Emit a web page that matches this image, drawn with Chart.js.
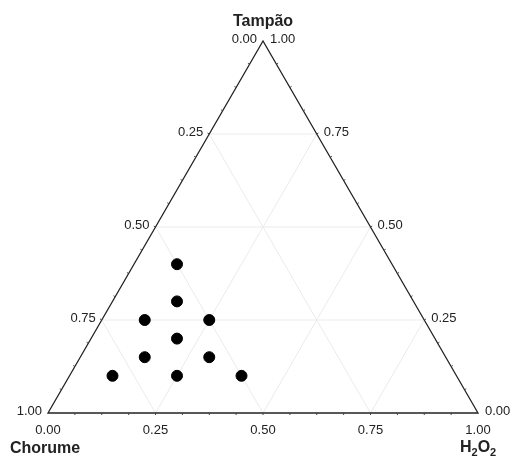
<!DOCTYPE html>
<html>
<head>
<meta charset="utf-8">
<script src="https://cdn.jsdelivr.net/npm/chart.js@4/dist/chart.umd.min.js"></script>
<style>
	body { margin: 0; background: #fff; }
	#wrap { width: 512px; height: 457px; }
</style>
</head>
<body>
<div id="wrap"><canvas id="chart" width="512" height="457"></canvas></div>
<script>
// mixture fractions of each run (Chorume + Tampão + H2O2 = 1)
const chorume = [0.50, 0.55, 0.65, 0.50, 0.60, 0.70, 0.55, 0.80, 0.65, 0.50];
const tampao  = [0.40, 0.30, 0.25, 0.25, 0.20, 0.15, 0.15, 0.10, 0.10, 0.10];
const h2o2    = [0.10, 0.15, 0.10, 0.25, 0.20, 0.15, 0.30, 0.10, 0.25, 0.40];

const tickLabels = ["0.00", "0.25", "0.50", "0.75", "1.00"];
const tickValues = [0, 0.25, 0.5, 0.75, 1];

const H = Math.sqrt(3) / 2;

// ternary (h2o2, tampao) -> cartesian on the unit triangle
const toXY = (h, t) => ({ x: h + t / 2, y: t * H });

const points = h2o2.map((h, i) => toXY(h, tampao[i]));

const ternaryPlugin = {
	id: "ternary",
	beforeDatasetsDraw(chart) {
		const ctx = chart.ctx;
		const xs = chart.scales.x, ys = chart.scales.y;
		const P = (h, t) => {
			const p = toXY(h, t);
			return [xs.getPixelForValue(p.x), ys.getPixelForValue(p.y)];
		};
		const line = (a, b) => {
			ctx.beginPath();
			ctx.moveTo(a[0], a[1]);
			ctx.lineTo(b[0], b[1]);
			ctx.stroke();
		};

		ctx.save();
		// grid
		ctx.strokeStyle = "#ebebeb";
		ctx.lineWidth = 1;
		[0.25, 0.5, 0.75].forEach(v => {
			line(P(0, v), P(1 - v, v));      // tampao const
			line(P(v, 0), P(v, 1 - v));      // h2o2 const
			line(P(0, 1 - v), P(1 - v, 0));  // chorume const
		});

		// triangle
		const A = P(0, 0), B = P(1, 0), C = P(0, 1);
		ctx.strokeStyle = "#222";
		ctx.lineWidth = 1.3;
		ctx.beginPath();
		ctx.moveTo(A[0], A[1]);
		ctx.lineTo(B[0], B[1]);
		ctx.lineTo(C[0], C[1]);
		ctx.closePath();
		ctx.stroke();

		// small ticks
		ctx.strokeStyle = "#444";
		ctx.lineWidth = 1;
		for (let k = 1; k < 16; k++) {
			const v = k / 16;
			let p = P(v, 0);
			line(p, [p[0], p[1] + 2]);
			p = P(0, v);
			line(p, [p[0] - 1.7, p[1] - 1]);
			p = P(1 - v, v);
			line(p, [p[0] + 1.7, p[1] - 1]);
		}

		// tick labels
		ctx.fillStyle = "#222";
		ctx.font = "13px 'Liberation Sans', Arial, sans-serif";
		ctx.textBaseline = "middle";
		tickValues.forEach((v, i) => {
			// bottom: H2O2
			let p = P(v, 0);
			ctx.textAlign = "center";
			ctx.fillText(tickLabels[i], p[0], p[1] + 17);
			// left: Chorume
			p = P(0, 1 - v);
			ctx.textAlign = "right";
			ctx.fillText(tickLabels[i], p[0] - 6, p[1] - 2);
			// right: Tampao
			p = P(1 - v, v);
			ctx.textAlign = "left";
			ctx.fillText(tickLabels[i], p[0] + 7, p[1] - 2);
		});

		// vertex titles
		ctx.font = "bold 16px 'Liberation Sans', Arial, sans-serif";
		ctx.textBaseline = "alphabetic";
		ctx.textAlign = "center";
		ctx.fillText("Tampão", C[0], C[1] - 15);
		ctx.textAlign = "left";
		ctx.fillText("Chorume", 10, 453);

		// H2O2 with subscripts
		let x = 460;
		const parts = [["H", false], ["2", true], ["O", false], ["2", true]];
		parts.forEach(([s, sub]) => {
			ctx.font = sub ? "bold 11px 'Liberation Sans', Arial, sans-serif"
				: "bold 16px 'Liberation Sans', Arial, sans-serif";
			ctx.fillText(s, x, sub ? 456 : 452);
			x += ctx.measureText(s).width;
		});
		ctx.restore();
	}
};

new Chart(document.getElementById("chart"), {
	type: "scatter",
	data: {
		datasets: [{
			data: points,
			backgroundColor: "#000",
			borderColor: "#000",
			pointRadius: 5.5,
			pointHoverRadius: 5.5
		}]
	},
	options: {
		responsive: false,
		animation: false,
		layout: { padding: { left: 48, right: 34, top: 41, bottom: 44 } },
		scales: {
			x: { type: "linear", min: 0, max: 1, display: false },
			y: { type: "linear", min: 0, max: H, display: false }
		},
		plugins: {
			legend: { display: false },
			tooltip: { enabled: false }
		}
	},
	plugins: [ternaryPlugin]
});
</script>
</body>
</html>
